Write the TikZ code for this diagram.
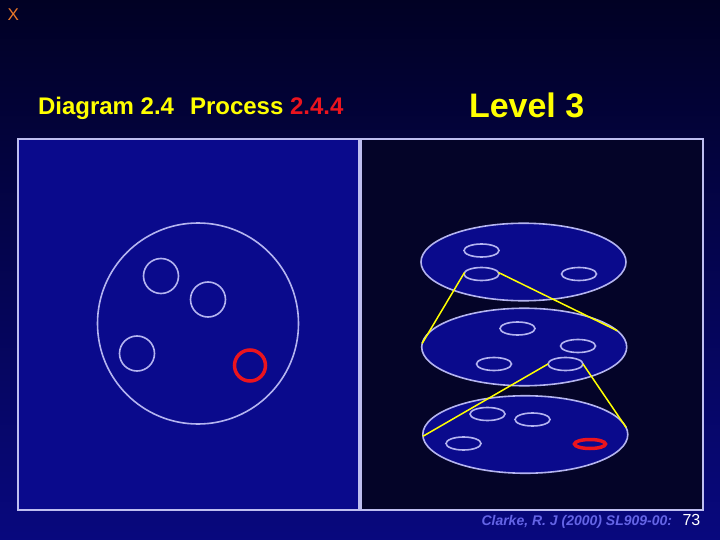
\documentclass[tikz,border=0pt]{standalone}
\usepackage{fontspec}
\setmainfont{Liberation Sans}
\usetikzlibrary{shapes.geometric}
\definecolor{bgtop}{RGB}{1,1,36}
\definecolor{bgbot}{RGB}{8,8,126}
\definecolor{panelblue}{RGB}{10,10,140}
\definecolor{paneldark}{RGB}{4,4,40}
\definecolor{rim}{RGB}{190,190,240}
\definecolor{lav}{RGB}{180,180,240}
\definecolor{hred}{RGB}{235,20,30}
\definecolor{ylw}{RGB}{255,255,0}
\definecolor{xorange}{RGB}{235,120,40}
\definecolor{foot}{RGB}{100,100,230}
\begin{document}
\begin{tikzpicture}[x=1pt,y=1pt,
  panel/.style={draw=rim, line width=2.5pt},
  bigcirc/.style={circle, draw=lav, line width=1.6pt, inner sep=0pt, outer sep=0pt, minimum size=#1},
  plate/.style={ellipse, draw=lav, fill=panelblue, line width=1.6pt, inner sep=0pt, outer sep=0pt, minimum width=205, minimum height=77.5},
  blob/.style={ellipse, draw=lav, line width=1.6pt, inner sep=0pt, outer sep=0pt, minimum width=35, minimum height=13},
  redblob/.style={ellipse, draw=hred, line width=3.5pt, inner sep=0pt, outer sep=0pt, minimum width=31, minimum height=9},
  link/.style={draw=ylw, line width=1.5pt},
  txt/.style={inner sep=0pt, outer sep=0pt, anchor=base west}]
\useasboundingbox (0,0) rectangle (720,-540);
\shade[top color=bgtop, bottom color=bgbot] (0,0) rectangle (720,-540);

% panels
\path[panel, fill=panelblue] (18,-139) rectangle (359,-510);
\path[panel, fill=paneldark] (361,-139) rectangle (703,-510);

% titles
\node[txt, text=xorange, font=\fontsize{17}{19}\selectfont] (x) at (7.5,-20.5) {X};
\node[txt, text=ylw, font=\bfseries\fontsize{24}{28}\selectfont] (diag) at (38,-115)
  {Diagram 2.4\hspace{16pt}Process \textcolor{hred}{2.4.4}};
\node[txt, text=ylw, font=\bfseries\fontsize{34}{40}\selectfont] (lvl) at (469,-117.5) {Level 3};

% left: process circle
\node[bigcirc=201] (big) at (198,-323.5) {};
\node[bigcirc=35] (c1) at (161,-276) {};
\node[bigcirc=35] (c2) at (208,-299.5) {};
\node[bigcirc=35] (c3) at (137,-353.5) {};
\node[circle, draw=hred, line width=3.5pt, inner sep=0pt, minimum size=31] (cr) at (250,-365.5) {};

% right: three levels
\node[plate] (top) at (523.5,-262) {};
\node[blob] (t1) at (481.5,-250.5) {};
\node[blob] (t2) at (481.5,-274) {};
\node[blob] (t3) at (579,-274) {};

\node[plate] (mid) at (524.2,-347) {};
\node[blob] (m1) at (517.5,-328.5) {};
\node[blob] (m2) at (578,-346) {};
\node[blob] (m3) at (494,-364) {};
\node[blob] (m4) at (565.5,-364) {};

\node[plate] (bot) at (525.3,-434.5) {};
\node[blob] (b1) at (487.5,-414) {};
\node[blob] (b2) at (532.5,-419.5) {};
\node[blob] (b3) at (463.5,-443.5) {};
\node[redblob] (br) at (590,-444) {};

% connectors
\draw[link] (t2.175) -- (mid.178);
\draw[link] (t2.5) -- (mid.10.5);
\draw[link] (m4.west) -- (bot.181);
\draw[link] (m4.east) -- (bot.4.4);

% footer
\node[txt, text=foot, font=\bfseries\itshape\fontsize{14}{16}\selectfont] (cite) at (481.5,-525) {Clarke, R. J (2000) SL909-00:};
\node[txt, text=white, font=\fontsize{16}{18}\selectfont] (pg) at (682.5,-525) {73};
\end{tikzpicture}
\end{document}
